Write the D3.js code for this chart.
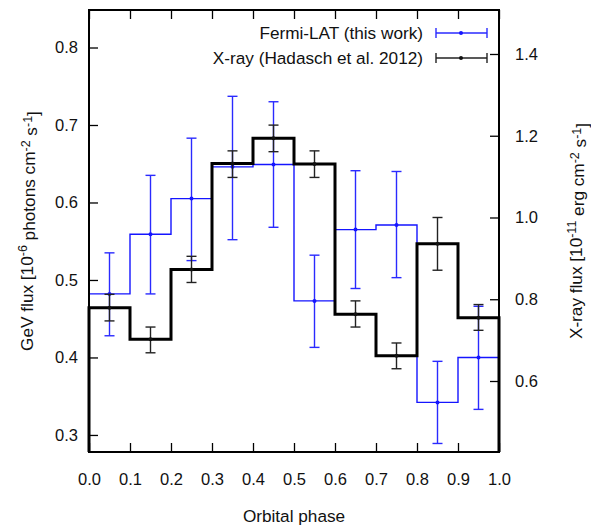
<!DOCTYPE html>
<meta charset="utf-8">
<style>
body { margin: 0; background: #fff; }
svg { font-family: "Liberation Sans", Arial, sans-serif; }
.axis path { display: none; }
.axis line { stroke: #000; stroke-width: 1.3px; }
.axis text { font-size: 16.5px; fill: #111; }
.frame { fill: none; stroke: #000; stroke-width: 2px; }
.fermi { fill: none; stroke: #1515ff; stroke-width: 1.4px; }
.xray { fill: none; stroke: #000; stroke-width: 3px; }
.err-fermi { stroke: #2a2aff; stroke-width: 1.4px; }
.err-xray { stroke: #222; stroke-width: 1.4px; }
.label { font-size: 17.2px; fill: #111; }
</style>
<body>
<svg width="591" height="527"></svg>
<script src="https://d3js.org/d3.v7.min.js"></script>
<script>
// orbital phase bins (centres)
var phase = [0.05, 0.15, 0.25, 0.35, 0.45, 0.55, 0.65, 0.75, 0.85, 0.95];

// Fermi-LAT flux, 1e-6 photons cm^-2 s^-1
var gevFlux = [0.482, 0.559, 0.605, 0.646, 0.649, 0.473, 0.565, 0.571, 0.342, 0.400];
var gevHigh = [0.535, 0.635, 0.683, 0.737, 0.730, 0.532, 0.641, 0.640, 0.395, 0.466];
var gevLow  = [0.428, 0.482, 0.525, 0.552, 0.568, 0.413, 0.489, 0.503, 0.289, 0.333];

// X-ray flux, 1e-11 erg cm^-2 s^-1
var xrayFlux = [0.779, 0.702, 0.873, 1.132, 1.194, 1.131, 0.763, 0.662, 0.936, 0.755];
var xrayHigh = [0.812, 0.732, 0.905, 1.163, 1.226, 1.163, 0.796, 0.693, 1.000, 0.787];
var xrayLow  = [0.747, 0.669, 0.841, 1.098, 1.161, 1.098, 0.732, 0.630, 0.871, 0.724];

var xTicks = [0, 0.1, 0.2, 0.3, 0.4, 0.5, 0.6, 0.7, 0.8, 0.9, 1.0];
var yTicks = [0.3, 0.4, 0.5, 0.6, 0.7, 0.8];
var y2Ticks = [0.6, 0.8, 1.0, 1.2, 1.4];

var svg = d3.select("svg"),
    plotLeft = 89, plotRight = 499, plotTop = 10, plotBottom = 452;

var x = d3.scaleLinear().domain([0, 1]).range([plotLeft, plotRight]);
var y = d3.scaleLinear().domain([0.278, 0.8484]).range([plotBottom, plotTop]);
var y2 = d3.scaleLinear().domain([0.4263, 1.5076]).range([plotBottom, plotTop]);

// axes (ticks pointing inward)
svg.append("g")
    .attr("class", "axis")
    .attr("transform", "translate(0," + plotBottom + ")")
    .call(d3.axisBottom(x).tickValues(xTicks).tickSize(-9).tickPadding(21).tickFormat(d3.format(".1f")));

svg.append("g")
    .attr("class", "axis")
    .attr("transform", "translate(0," + plotTop + ")")
    .call(d3.axisTop(x).tickValues(xTicks).tickSize(-9).tickFormat(""));

svg.append("g")
    .attr("class", "axis")
    .attr("transform", "translate(" + plotLeft + ",0)")
    .call(d3.axisLeft(y).tickValues(yTicks).tickSize(-9).tickPadding(11).tickFormat(d3.format(".1f")));

svg.append("g")
    .attr("class", "axis")
    .attr("transform", "translate(" + plotRight + ",0)")
    .call(d3.axisRight(y2).tickValues(y2Ticks).tickSize(-9).tickPadding(16).tickFormat(d3.format(".1f")));

// histogram steps
function steps(vals, scale) {
  var pts = [[0, scale.domain()[0]]];
  vals.forEach(function(v, i) {
    pts.push([phase[i] - 0.05, v]);
    pts.push([phase[i] + 0.05, v]);
  });
  pts.push([1, scale.domain()[0]]);
  return d3.line()
      .x(function(d) { return x(d[0]); })
      .y(function(d) { return scale(d[1]); })(pts);
}

svg.append("path").attr("class", "fermi").attr("d", steps(gevFlux, y));
svg.append("path").attr("class", "xray").attr("d", steps(xrayFlux, y2));

// error bars
function errorBars(cls, vals, hi, lo, scale, color) {
  var g = svg.append("g");
  phase.forEach(function(p, i) {
    var cx = x(p);
    g.append("line").attr("class", cls)
        .attr("x1", cx).attr("x2", cx).attr("y1", scale(hi[i])).attr("y2", scale(lo[i]));
    [hi[i], lo[i]].forEach(function(v) {
      g.append("line").attr("class", cls)
          .attr("x1", cx - 5).attr("x2", cx + 5).attr("y1", scale(v)).attr("y2", scale(v));
    });
    g.append("circle").attr("cx", cx).attr("cy", scale(vals[i])).attr("r", 2).attr("fill", color);
  });
}
errorBars("err-fermi", gevFlux, gevHigh, gevLow, y, "#1515ff");
errorBars("err-xray", xrayFlux, xrayHigh, xrayLow, y2, "#111");

svg.append("rect").attr("class", "frame")
    .attr("x", plotLeft).attr("y", plotTop)
    .attr("width", plotRight - plotLeft).attr("height", plotBottom - plotTop);

// legend
var legend = [
  {text: "Fermi-LAT (this work)", cls: "err-fermi", color: "#1515ff", y: 33},
  {text: "X-ray (Hadasch et al. 2012)", cls: "err-xray", color: "#111", y: 58}
];
legend.forEach(function(d) {
  svg.append("text").attr("class", "label")
      .attr("x", 423).attr("y", d.y).attr("dy", "0.35em")
      .attr("text-anchor", "end").text(d.text);
  svg.append("line").attr("class", d.cls)
      .attr("x1", 436).attr("x2", 487).attr("y1", d.y).attr("y2", d.y);
  [436, 487].forEach(function(cx) {
    svg.append("line").attr("class", d.cls)
        .attr("x1", cx).attr("x2", cx).attr("y1", d.y - 5).attr("y2", d.y + 5);
  });
  svg.append("circle").attr("cx", 461).attr("cy", d.y).attr("r", 2).attr("fill", d.color);
});

// axis titles
svg.append("text").attr("class", "label")
    .attr("x", 294).attr("y", 522).attr("text-anchor", "middle")
    .text("Orbital phase");

function supLabel(tx, ty, parts) {
  var t = svg.append("text").attr("class", "label")
      .attr("transform", "translate(" + tx + "," + ty + ") rotate(-90)")
      .attr("text-anchor", "middle");
  parts.forEach(function(p, i) {
    if (i % 2 === 0) {
      t.append("tspan").attr("dy", i ? "0.45em" : null).text(p);
    } else {
      t.append("tspan").attr("dy", "-0.45em").attr("font-size", "12.5px").text(p);
    }
  });
}
supLabel(33, 231, ["GeV flux [10", "-6", " photons cm", "-2", " s", "-1", "]"]);
supLabel(582, 231, ["X-ray flux [10", "-11", " erg cm", "-2", " s", "-1", "]"]);
</script>
